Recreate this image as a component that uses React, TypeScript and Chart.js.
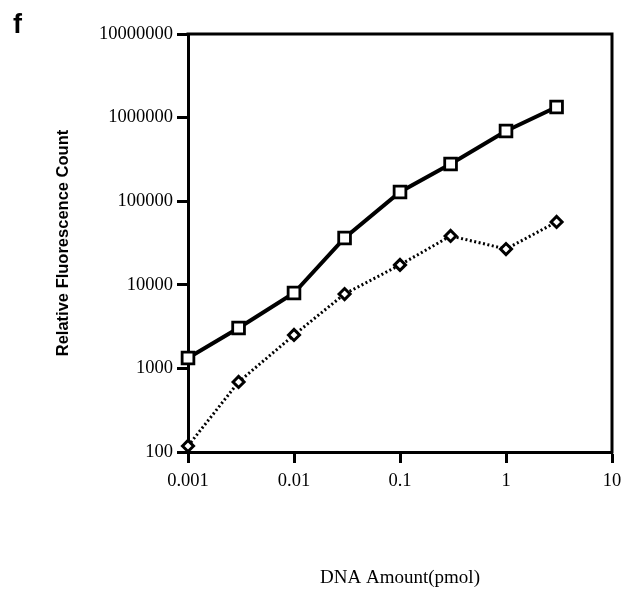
import React, { useEffect, useRef } from "react";
import { Chart, registerables } from "chart.js";

Chart.register(...registerables);

const xValues = [0.001, 0.003, 0.01, 0.03, 0.1, 0.3, 1, 3];
const squareValues = [1330, 3040, 7980, 36300, 129000, 279000, 692000, 1340000];
const diamondValues = [118, 688, 2510, 7760, 17300, 38400, 26800, 56400];
const xTicks = [0.001, 0.01, 0.1, 1, 10];
const yTicks = [100, 1000, 10000, 100000, 1000000, 10000000];
const xTitle = "DNA Amount(pmol)";
const yTitle = "Relative Fluorescence Count";
const panelLabel = "f";

const serif = '"Liberation Serif", "Times New Roman", serif';
const sans = '"Liberation Sans", Arial, sans-serif';

const framePlugin = {
  id: "frame",
  afterDraw(chart: any) {
    const { ctx, chartArea } = chart;
    ctx.save();
    ctx.strokeStyle = "#000";
    ctx.lineWidth = 3;
    ctx.lineCap = "square";
    ctx.beginPath();
    ctx.moveTo(chartArea.left, chartArea.top);
    ctx.lineTo(chartArea.right, chartArea.top);
    ctx.lineTo(chartArea.right, chartArea.bottom);
    ctx.stroke();
    ctx.fillStyle = "#000";
    ctx.font = `bold 27px ${sans}`;
    ctx.textBaseline = "alphabetic";
    ctx.textAlign = "left";
    ctx.fillText(panelLabel, 13, 33);
    ctx.restore();
  },
};

export default function App() {
  const ref = useRef<HTMLCanvasElement | null>(null);

  useEffect(() => {
    if (!ref.current) return;
    const chart = new Chart(ref.current, {
      type: "line",
      data: {
        datasets: [
          {
            label: "squares",
            data: xValues.map((x, i) => ({ x, y: squareValues[i] })),
            borderColor: "#000",
            borderWidth: 4,
            pointStyle: "rect",
            pointRadius: 8.3,
            pointBorderWidth: 2.8,
            pointBackgroundColor: "#fff",
            pointBorderColor: "#000",
            clip: false as any,
          },
          {
            label: "diamonds",
            data: xValues.map((x, i) => ({ x, y: diamondValues[i] })),
            borderColor: "#000",
            borderWidth: 3,
            borderDash: [2, 2.5],
            pointStyle: "rectRot",
            pointRadius: 5.5,
            pointBorderWidth: 3,
            pointBackgroundColor: "#fff",
            pointBorderColor: "#000",
            clip: false as any,
          },
        ],
      },
      options: {
        animation: false,
        responsive: false,
        layout: { padding: { top: 34, right: 19, left: 0, bottom: 0 } },
        plugins: {
          legend: { display: false },
          tooltip: { enabled: false },
        },
        scales: {
          x: {
            type: "logarithmic",
            min: 0.001,
            max: 10,
            afterBuildTicks: (s: any) => {
              s.ticks = xTicks.map((v) => ({ value: v }));
            },
            afterFit: (s: any) => {
              s.height = 138;
            },
            grid: {
              drawOnChartArea: false,
              drawTicks: true,
              tickLength: 11,
              tickWidth: 3,
              tickColor: "#000",
            },
            border: { display: true, color: "#000", width: 3 },
            ticks: {
              color: "#000",
              font: { family: serif, size: 18.5 },
              padding: 7,
              maxRotation: 0,
              autoSkip: false,
              callback: (v: any) => String(v),
            },
            title: {
              display: true,
              text: xTitle,
              color: "#000",
              font: { family: serif, size: 19 },
              padding: { top: 0, bottom: 1 },
            },
          },
          y: {
            type: "logarithmic",
            min: 100,
            max: 10000000,
            afterBuildTicks: (s: any) => {
              s.ticks = yTicks.map((v) => ({ value: v }));
            },
            afterFit: (s: any) => {
              s.width = 188;
            },
            grid: {
              drawOnChartArea: false,
              drawTicks: true,
              tickLength: 11,
              tickWidth: 3,
              tickColor: "#000",
            },
            border: { display: true, color: "#000", width: 3 },
            ticks: {
              color: "#000",
              font: { family: serif, size: 18.5 },
              padding: 4,
              autoSkip: false,
              callback: (v: any) => String(v),
            },
            title: {
              display: true,
              text: yTitle,
              color: "#000",
              font: { family: sans, size: 16.5, weight: "bold" },
              padding: { top: 54, bottom: 0 },
            },
          },
        },
      },
      plugins: [framePlugin],
    });
    return () => chart.destroy();
  }, []);

  return (
    <div style={{ position: "fixed", left: 0, top: 0, width: 631, height: 590, background: "#fff" }}>
      <canvas ref={ref} width={631} height={590} />
    </div>
  );
}
